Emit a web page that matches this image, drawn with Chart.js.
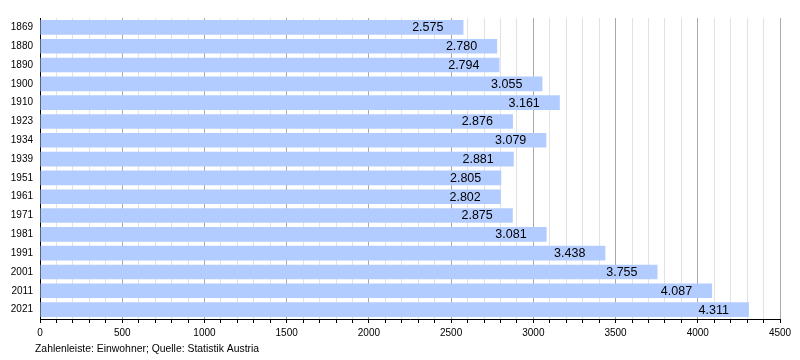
<!DOCTYPE html>
<html>
<head>
<meta charset="utf-8">
<script src="https://cdn.jsdelivr.net/npm/chart.js@4/dist/chart.umd.min.js"></script>
<style>
html,body{margin:0;padding:0;background:#fff;}
#wrap{width:800px;height:360px;position:relative;}
</style>
</head>
<body>
<div id="wrap"><canvas id="c" width="800" height="360"></canvas></div>
<script>
const years = ['1869','1880','1890','1900','1910','1923','1934','1939','1951','1961','1971','1981','1991','2001','2011','2021'];
const population = [2575, 2780, 2794, 3055, 3161, 2876, 3079, 2881, 2805, 2802, 2875, 3081, 3438, 3755, 4087, 4311];
const xMin = 0, xMax = 4500, xStep = 100, xLabelStep = 500;
const footnote = 'Zahlenleiste: Einwohner; Quelle: Statistik Austria';

const FONT = "'Liberation Sans', Arial, Helvetica, sans-serif";

function fmt(v){ return v.toString().replace(/\B(?=(\d{3})+(?!\d))/g, '.'); }

const labelPlugin = {
  id: 'barLabels',
  afterDatasetsDraw(chart){
    const ctx = chart.ctx;
    const meta = chart.getDatasetMeta(0);
    ctx.save();
    ctx.font = '12.5px ' + FONT;
    ctx.fillStyle = '#000';
    ctx.textAlign = 'right';
    ctx.textBaseline = 'middle';
    meta.data.forEach((bar, i) => {
      ctx.fillText(fmt(population[i]), bar.x - 20, bar.y + 0.5);
    });
    ctx.restore();
  },
  afterDraw(chart){
    const ctx = chart.ctx;
    ctx.save();
    ctx.font = '10.4px ' + FONT;
    ctx.fillStyle = '#000';
    ctx.textAlign = 'left';
    ctx.textBaseline = 'middle';
    ctx.fillText(footnote, 35, 349);
    ctx.restore();
  }
};

new Chart(document.getElementById('c'), {
  type: 'bar',
  data: {
    labels: years,
    datasets: [{
      data: population,
      backgroundColor: 'rgb(179,204,255)',
      borderWidth: 0,
      categoryPercentage: 1,
      barPercentage: 0.78
    }]
  },
  options: {
    indexAxis: 'y',
    responsive: false,
    animation: false,
    devicePixelRatio: 1,
    layout: { padding: { top: 18, right: 20, left: 0, bottom: 0 } },
    plugins: { legend: { display: false }, tooltip: { enabled: false }, title: { display: false } },
    scales: {
      x: {
        min: xMin, max: xMax,
        afterFit(s){ s.height = 41; },
        border: { color: '#000', width: 1 },
        grid: {
          color: (c) => (c.tick && c.tick.value % xLabelStep === 0) ? '#a9a9a9' : '#e2e2e2',
          tickColor: '#000',
          tickLength: 4,
          lineWidth: 1
        },
        ticks: {
          stepSize: xStep,
          autoSkip: false,
          maxRotation: 0,
          padding: 4,
          color: '#000',
          font: { family: FONT, size: 10 },
          callback: (v) => (v % xLabelStep === 0) ? String(v) : ''
        }
      },
      y: {
        afterFit(s){ s.width = 40; },
        border: { color: '#000', width: 1 },
        grid: { display: false, drawTicks: false },
        ticks: {
          padding: 7,
          color: '#000',
          font: { family: FONT, size: 10 }
        }
      }
    }
  },
  plugins: [labelPlugin]
});
</script>
</body>
</html>
